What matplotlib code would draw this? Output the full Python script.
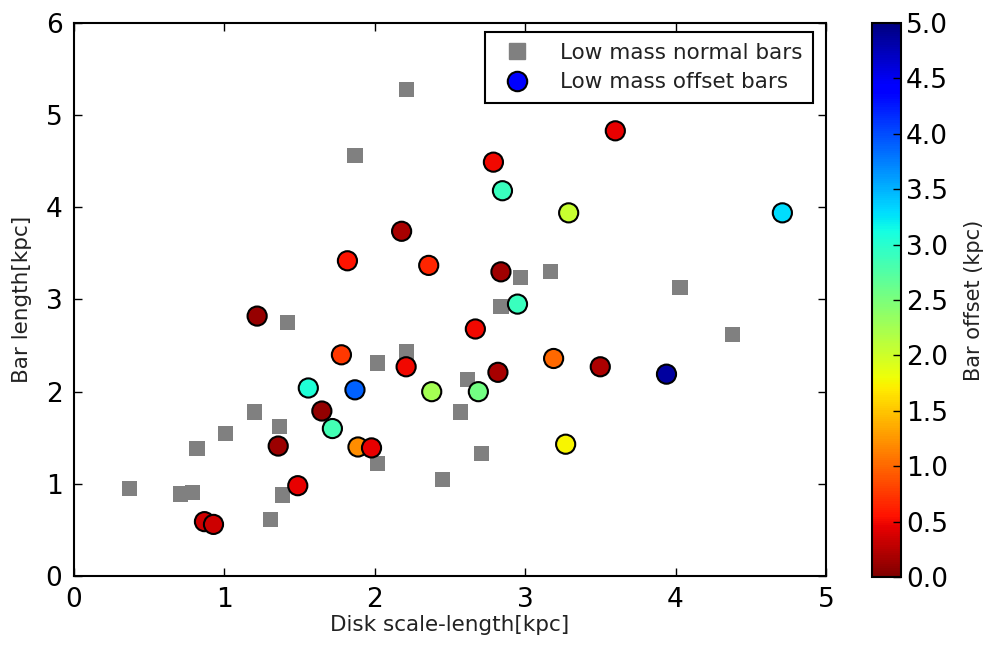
import matplotlib
matplotlib.use("Agg")
import matplotlib.pyplot as plt
from matplotlib.lines import Line2D

# Low mass normal bars (grey squares)
normal_scale = [0.37, 0.71, 0.79, 0.82, 1.01, 1.20, 1.37, 1.31, 1.39, 1.42, 1.87, 2.02,
                2.02, 2.21, 2.21, 2.45, 2.57, 2.62, 2.71, 2.84, 2.97, 3.17, 4.03, 4.38]
normal_length = [0.95, 0.89, 0.91, 1.38, 1.55, 1.78, 1.62, 0.61, 0.88, 2.75, 4.56, 2.31,
                 1.22, 2.43, 5.28, 1.05, 1.78, 2.13, 1.33, 2.92, 3.24, 3.30, 3.13, 2.62]

# Low mass offset bars (circles coloured by offset)
offset_scale = [1.22, 1.78, 2.21, 1.56, 1.87, 2.38, 1.65, 1.72, 1.36, 1.89, 1.98, 1.49,
                0.87, 0.93, 2.67, 3.19, 3.50, 2.82, 3.94, 2.69, 3.27, 2.95, 3.60, 2.79,
                2.85, 3.29, 4.71, 2.84, 2.18, 1.82, 2.36]
offset_length = [2.82, 2.40, 2.27, 2.04, 2.02, 2.00, 1.79, 1.60, 1.41, 1.40, 1.39, 0.98,
                 0.59, 0.56, 2.68, 2.36, 2.27, 2.21, 2.19, 2.00, 1.43, 2.95, 4.83, 4.49,
                 4.18, 3.94, 3.94, 3.30, 3.74, 3.42, 3.37]
bar_offset = [0.10, 0.75, 0.50, 3.05, 3.90, 2.25, 0.08, 2.85, 0.12, 1.20, 0.45, 0.45,
              0.35, 0.35, 0.50, 1.00, 0.20, 0.18, 4.85, 2.55, 1.75, 2.90, 0.45, 0.50,
              2.90, 2.05, 3.30, 0.15, 0.18, 0.55, 0.65]

fig = plt.figure(figsize=(9.83, 6.47), dpi=100)
ax = fig.add_axes([0.0748, 0.1097, 0.7655, 0.8548])
cax = fig.add_axes([0.887, 0.108, 0.0295, 0.8565])

ax.scatter(normal_scale, normal_length, marker='s', s=120, c='grey',
           edgecolors='none', zorder=2)
sc = ax.scatter(offset_scale, offset_length, marker='o', s=190, c=bar_offset,
                cmap='jet_r', vmin=0, vmax=5, edgecolors='black', linewidths=1.5,
                zorder=3)

ax.set_xlim(0, 5)
ax.set_ylim(0, 6)
ax.tick_params(direction='in', labelsize=19, length=6, width=1, top=True, right=True, pad=8)
for sp in ax.spines.values():
    sp.set_linewidth(1.5)
ax.set_xlabel('Disk scale-length[kpc]', fontsize=15.5, labelpad=1, color='#222222')
ax.set_ylabel('Bar length[kpc]', fontsize=15.5, labelpad=10, color='#222222')

# legend proxies
h1 = Line2D([], [], marker='s', ls='none', color='grey', markersize=11)
h2 = Line2D([], [], marker='o', ls='none', markerfacecolor='blue',
            markeredgecolor='black', markeredgewidth=1.5, markersize=14)
leg = ax.legend([h1, h2], ['Low mass normal bars', 'Low mass offset bars'],
                loc='upper right', fontsize=15.5, fancybox=False,
                edgecolor='black', framealpha=1, borderpad=0.5, handletextpad=1.0,
                labelspacing=0.45, borderaxespad=0, bbox_to_anchor=(0.983, 0.984))
leg.get_frame().set_linewidth(1.5)
for t in leg.get_texts():
    t.set_color('#222222')

cb = fig.colorbar(sc, cax=cax, ticks=[0, 0.5, 1, 1.5, 2, 2.5, 3, 3.5, 4, 4.5, 5])
cb.ax.set_yticklabels(['%.1f' % t for t in cb.get_ticks()])
cb.ax.tick_params(direction='in', labelsize=19, length=6, width=1)
cb.outline.set_linewidth(1.5)
cb.set_label('Bar offset (kpc)', fontsize=15, labelpad=12, color='#222222')

fig.savefig('out.png', dpi=100, facecolor='white')
